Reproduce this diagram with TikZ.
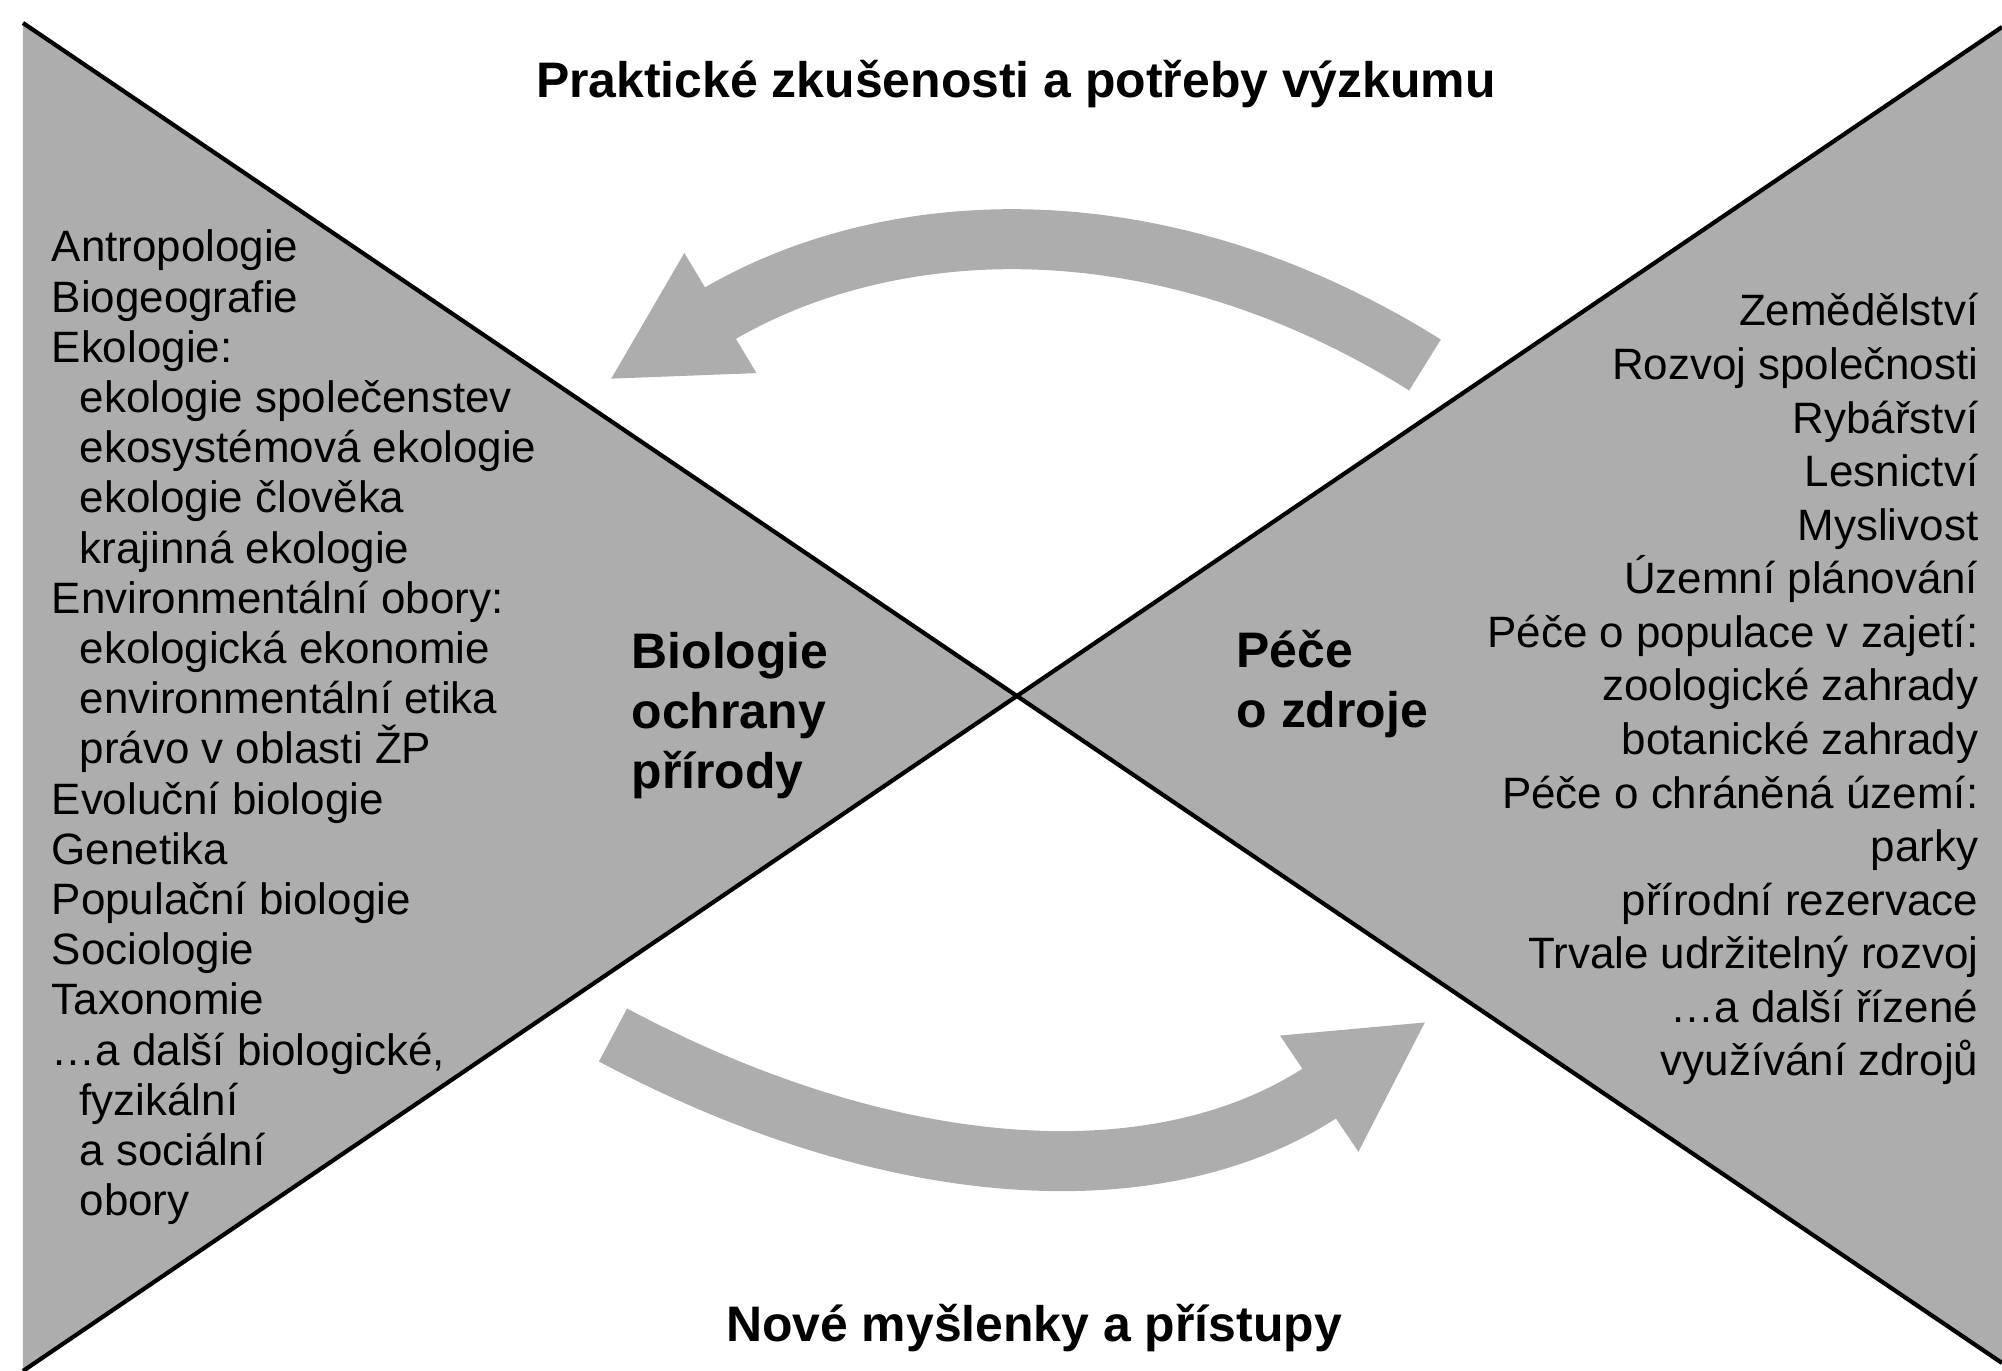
\documentclass[tikz,border=0pt]{standalone}
\usepackage{fontspec}
\setmainfont{Liberation Sans}
\usetikzlibrary{arrows.meta,positioning}
\definecolor{raster}{gray}{0.68}
\tikzset{
  field/.style={fill=raster},
  divide/.style={line width=1.2pt},
  swing/.style={draw=raster, line width=0.6cm, -{Triangle[width=1.3cm,length=1.3cm]}},
  obor/.style={anchor=base west, inner sep=0pt, font=\fontsize{12.5}{15}\selectfont},
  zdroj/.style={anchor=base east, inner sep=0pt, font=\fontsize{12.5}{15}\selectfont},
  heading/.style={anchor=base, inner sep=0pt, font=\bfseries\fontsize{14.2}{17}\selectfont},
  fieldname/.style={anchor=base west, inner sep=0pt, font=\bfseries\fontsize{14.2}{17}\selectfont},
}
\begin{document}
\begin{tikzpicture}
  \useasboundingbox (0,0) rectangle (20.02,13.71);
  % corners of the two fields
  \coordinate (tl) at (0.23,13.48);
  \coordinate (bl) at (0.23,0);
  \coordinate (tr) at (20.02,13.44);
  \coordinate (br) at (20.02,0.08);
  \coordinate (mid) at (intersection of tl--br and bl--tr);
  \fill[field] (tl) -- (mid) -- (bl) -- cycle;
  \fill[field] (tr) -- (mid) -- (br) -- cycle;

  % arrows between the fields
  \coordinate (topfrom) at (14.25,10.06);
  \coordinate (topto) at (6.09,9.91);
  \coordinate (botfrom) at (6.13,3.36);
  \coordinate (botto) at (14.27,3.50);
  \draw[swing] (topfrom) to[out=148,in=31] (topto);
  \draw[swing] (botfrom) to[out=-28,in=214] (botto);

  \draw[divide] (tl) -- (br);
  \draw[divide] (bl) -- (tr);

  \node[heading] (praxe) at (10.16,12.73) {Praktické zkušenosti a potřeby výzkumu};
  \node[heading] (napady) at (10.34,0.29) {Nové myšlenky a přístupy};

  \node[fieldname] (bio1) at (6.31,7.02) {Biologie};
  \node[fieldname, below=0.6cm of bio1.base west, anchor=base west] (bio2) {ochrany};
  \node[fieldname, below=0.6cm of bio2.base west, anchor=base west] (bio3) {přírody};
  \node[fieldname] (pece1) at (12.36,7.03) {Péče};
  \node[fieldname, below=0.6cm of pece1.base west, anchor=base west] (pece2) {o zdroje};

  % left list
  \foreach \ind/\txt [count=\i] in {0/Antropologie, 0/Biogeografie, 0/Ekologie:,
      1/ekologie společenstev, 1/ekosystémová ekologie, 1/ekologie člověka,
      1/krajinná ekologie, 0/Environmentální obory:, 1/ekologická ekonomie,
      1/environmentální etika, 1/právo v oblasti ŽP, 0/Evoluční biologie,
      0/Genetika, 0/Populační biologie, 0/Sociologie, 0/Taxonomie,
      0/{…a další biologické,}, 1/fyzikální, 1/a sociální, 1/obory}
    \node[obor] (obor\i) at ({0.51+0.28*\ind},{11.592-0.502*\i}) {\txt};

  % right list
  \foreach \txt [count=\i] in {Zemědělství, Rozvoj společnosti, Rybářství,
      Lesnictví, Myslivost, Územní plánování, Péče o populace v zajetí:,
      zoologické zahrady, botanické zahrady, Péče o chráněná území:, parky,
      přírodní rezervace, Trvale udržitelný rozvoj, …a další řízené,
      využívání zdrojů}
    \node[zdroj] (zdroj\i) at (19.79,{10.986-0.5357*\i}) {\txt};
\end{tikzpicture}
\end{document}
